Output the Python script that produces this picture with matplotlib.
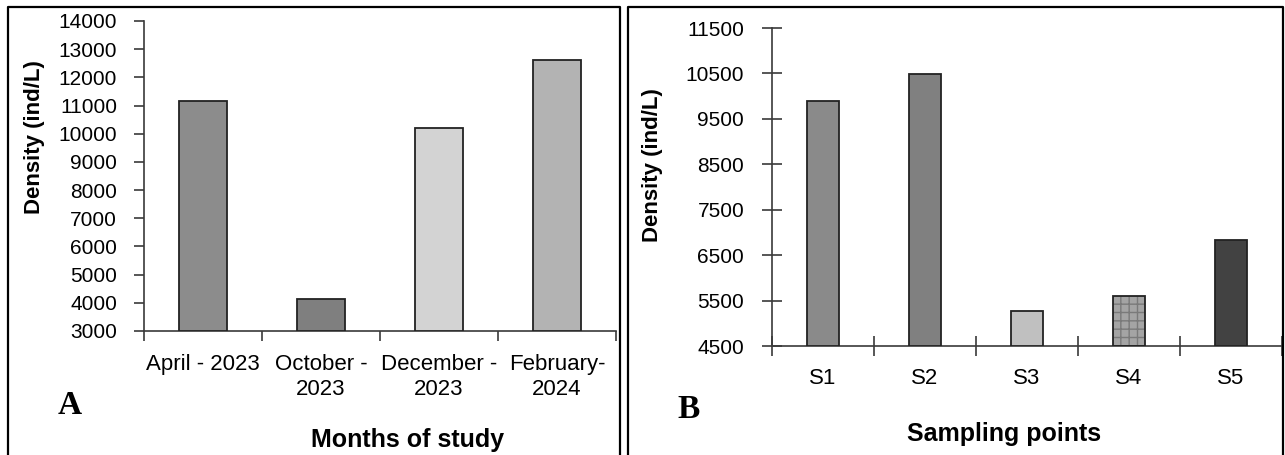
"""Zooplankton density by month (A) and by sampling point (B)."""

import matplotlib

matplotlib.use("Agg")
import matplotlib.pyplot as plt
from matplotlib.lines import Line2D

plt.rcParams["font.family"] = ["Liberation Sans", "DejaVu Sans"]

# Panel A: months of study
months = ["April - 2023", "October -\n2023", "December -\n2023", "February-\n2024"]
month_density = [11170, 4120, 10190, 12600]
month_colors = ["#8c8c8c", "#7f7f7f", "#d3d3d3", "#b3b3b3"]
month_hatch = [None, None, None, None]
month_ticks = [3000, 4000, 5000, 6000, 7000, 8000, 9000, 10000, 11000, 12000, 13000, 14000]

# Panel B: sampling points
sites = ["S1", "S2", "S3", "S4", "S5"]
site_density = [9890, 10480, 5270, 5590, 6840]
site_colors = ["#8a8a8a", "#808080", "#c0c0c0", "#a4a4a4", "#424242"]
site_hatch = [None, None, None, "++", None]
site_ticks = [4500, 5500, 6500, 7500, 8500, 9500, 10500, 11500]

W, H = 1285, 455
AXIS_COLOR = "#3a3a3a"


def _fig_rect(left, top, right, bottom):
    """Pixel box -> figure-fraction rect."""
    return [left / W, 1 - bottom / H, (right - left) / W, (bottom - top) / H]


def _draw_bars(ax, values, colors, hatches, width):
    base = ax.get_ylim()[0]
    xs = [i + 0.5 for i in range(len(values))]
    for x, v, c, h in zip(xs, values, colors, hatches):
        if h:
            ax.bar(x, v - base, width, bottom=base, color=c, edgecolor="#7a7a7a",
                   hatch=h, linewidth=0, zorder=2)
            ax.bar(x, v - base, width, bottom=base, fill=False,
                   edgecolor="#222222", linewidth=1.3, zorder=3)
        else:
            ax.bar(x, v - base, width, bottom=base, color=c,
                   edgecolor="#222222", linewidth=1.3, zorder=3)
    return xs


def _style(ax, n, labels, yticks, ylim, tick_dir, tick_len, xpad, ypad):
    ax.set_xlim(0, n)
    ax.set_ylim(*ylim)
    for side in ("top", "right"):
        ax.spines[side].set_visible(False)
    for side in ("left", "bottom"):
        ax.spines[side].set_color(AXIS_COLOR)
        ax.spines[side].set_linewidth(1.2)
    ax.set_yticks(yticks)
    ax.set_yticklabels([str(t) for t in yticks], fontsize=15)
    ax.set_xticks([i + 0.5 for i in range(n)])
    ax.set_xticklabels(labels, multialignment="center", fontsize=16,
                       linespacing=1.28)
    ax.set_xticks(list(range(n + 1)), minor=True)
    ax.tick_params(axis="x", which="major", length=0, pad=xpad)
    ax.tick_params(axis="x", which="minor", direction=tick_dir, length=tick_len,
                   width=1.2, color=AXIS_COLOR)
    ax.tick_params(axis="y", direction=tick_dir, length=tick_len, width=1.2,
                   color=AXIS_COLOR, pad=ypad)


fig = plt.figure(figsize=(W / 100, H / 100), dpi=100)

# --- panel A ---
ax_a = fig.add_axes(_fig_rect(144, 21, 616, 331))
_style(ax_a, len(months), months, month_ticks, (3000, 14000), "out", 7, 16.5, 12.5)
_draw_bars(ax_a, month_density, month_colors, month_hatch, 0.415)
ax_a.set_ylabel("Density (ind/L)", fontsize=16, fontweight="bold", va="center")
ax_a.yaxis.set_label_coords(-0.233, 0.626)
ax_a.text(0.559, -0.352, "Months of study", transform=ax_a.transAxes,
          ha="center", va="center", fontsize=18, fontweight="bold")

# --- panel B ---
ax_b = fig.add_axes(_fig_rect(772, 28, 1282, 346))
_style(ax_b, len(sites), sites, site_ticks, (4500, 11500), "inout", 15, 16, 12.5)
_draw_bars(ax_b, site_density, site_colors, site_hatch, 0.32)
ax_b.set_ylabel("Density (ind/L)", fontsize=16, fontweight="bold", va="center")
ax_b.yaxis.set_label_coords(-0.235, 0.570)
ax_b.text(0.455, -0.277, "Sampling points", transform=ax_b.transAxes,
          ha="center", va="center", fontsize=18, fontweight="bold")

# panel letters
for letter, (px, py) in {"A": (70, 406), "B": (689, 409)}.items():
    fig.text(px / W, 1 - py / H, letter, ha="center", va="center", fontsize=24,
             fontweight="bold", family=["Liberation Serif", "DejaVu Serif"])

# panel frames (left, top, right edges; bottom runs off the crop)
for left, right in ((8, 620), (628, 1283)):
    xs = [left / W, left / W, right / W, right / W]
    ys = [0, 1 - 7 / H, 1 - 7 / H, 0]
    fig.add_artist(Line2D(xs, ys, color="black", linewidth=1.6))

fig.savefig("out.png", dpi=100)
